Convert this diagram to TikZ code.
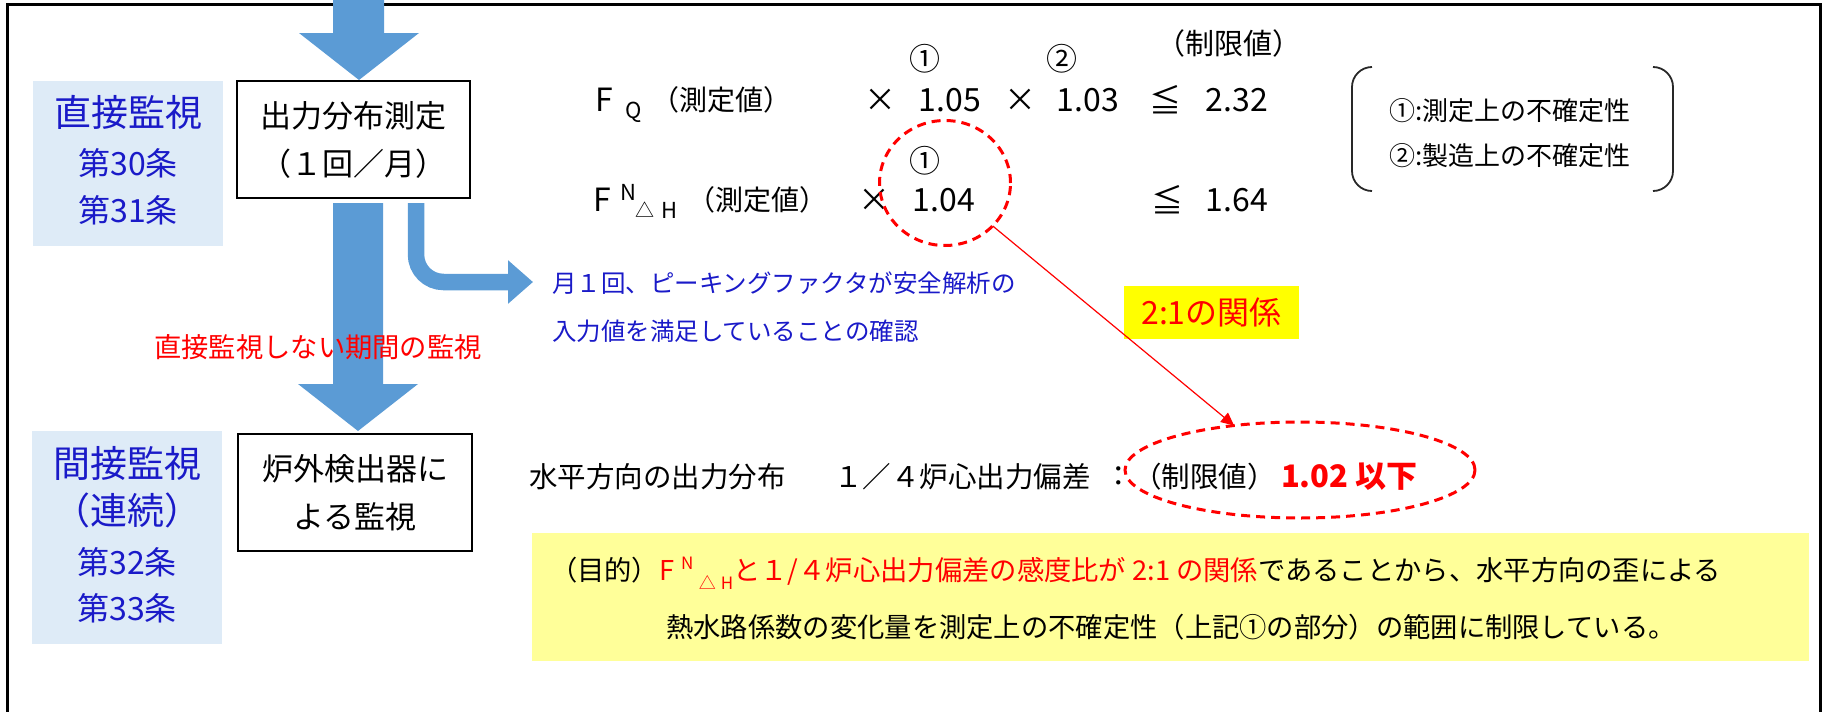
\documentclass[tikz,border=0pt]{standalone}
\usepackage{fontspec}
\setmainfont{Noto Sans CJK JP}
\usetikzlibrary{shapes.geometric,arrows.meta,calc}
\definecolor{arrowblue}{RGB}{91,155,213}
\definecolor{labelbg}{RGB}{222,235,247}
\definecolor{txtblue}{RGB}{26,26,200}
\definecolor{noteyellow}{RGB}{255,255,153}
\definecolor{tagyellow}{RGB}{255,255,0}
\definecolor{bracketgray}{RGB}{40,40,40}
\newcommand{\fsz}[1]{\fontsize{#1}{#1}\selectfont}
\newcommand{\FNdH}{F\hspace{0.25em}\raisebox{0.42em}{\fsz{17}N}\hspace{0.2em}\raisebox{-0.3em}{\fsz{17}△\hspace{0.3em}H}}
\begin{document}
\begin{tikzpicture}[x=1pt,y=-1pt,
  every node/.style={inner sep=0pt,outer sep=0pt},
  flowbox/.style={draw=black,line width=2.2pt,fill=white,align=center,font=\fontsize{31}{48}\selectfont},
  lblbig/.style={text=txtblue,font=\fsz{37}},
  lblsmall/.style={text=txtblue,font=\fsz{32}},
  blockarrow/.style={fill=arrowblue},
  bluenote/.style={anchor=west,text=txtblue,font=\fsz{24.5}},
  formula/.style={font=\fsz{32}},
  formulacjk/.style={font=\fsz{28}},
  circnum/.style={font=\fsz{31}},
  smallidx/.style={font=\fsz{22}},
  rowtxt/.style={font=\fsz{28.5}},
  redellipse/.style={ellipse,draw=red,line width=3pt,dash pattern=on 9pt off 6pt},
  legendtxt/.style={font=\fsz{26}},
  purposetxt/.style={font=\fsz{27.3}}]
\useasboundingbox (0,0) rectangle (1823,712);
% frame
\draw[line width=3pt] (7,712) -- (7,4) -- (1820,4) -- (1820,712);
% left labels
\node[fill=labelbg,minimum width=190pt,minimum height=165pt] (lbl1) at (128,163.5) {};
\node[lblbig] (lbl1a) at (128,112) {直接監視};
\node[lblsmall] (lbl1b) at (128,163) {第30条};
\node[lblsmall] (lbl1c) at (128,210) {第31条};
\node[fill=labelbg,minimum width=190pt,minimum height=213pt] (lbl2) at (127,537.5) {};
\node[lblbig] (lbl2a) at (127,463) {間接監視};
\node[lblbig] (lbl2b) at (127,510) {（連続）};
\node[lblsmall] (lbl2c) at (127,562) {第32条};
\node[lblsmall] (lbl2d) at (127,608) {第33条};
% boxes
\node[flowbox,minimum width=233pt,minimum height=117pt] (box1) at (353.5,139.5) {出力分布測定\\（１回／月）};
\node[flowbox,minimum width=234pt,minimum height=117pt] (box2) at (355,492.5) {炉外検出器に\\よる監視};
% top arrow
\coordinate (a1tip) at ($(box1.north)+(5.5,-1)$);
\fill[blockarrow] (a1tip) -- ++(60,-47) -- ++(-35,0) -- ++(0,-33) -- ++(-51,0) -- ++(0,33) -- ++(-34,0) -- cycle;
% middle arrow
\coordinate (a2tip) at ($(box2.north)+(3,-3)$);
\coordinate (a2top) at ($(box1.south)+(0,5)$);
\fill[blockarrow] (a2tip) -- ++(60,-47) -- ++(-35,0) -- (383,0 |- a2top) -- (333,0 |- a2top) -- ++(0,181) -- ++(-35,0) -- cycle;
\node[text=red,font=\fsz{27.3}] (gaplbl) at (318,347) {直接監視しない期間の監視};
% side notes
\node[bluenote] (note1) at (552,283) {月１回、ピーキングファクタが安全解析の};
\node[bluenote] (note2) at (552,331) {入力値を満足していることの確認};
\coordinate (ctip) at ($(note1.west)+(-19,-1)$);
\draw[arrowblue,line width=16.5pt,rounded corners=27.5pt,-{Triangle[length=25pt,width=42pt]}] ($(box1.south)+(62.5,5)$) |- (ctip);
% formula rows
\node[font=\fsz{29}] (limhdr) at (1229,43) {（制限値）};
\node[formula] (fq) at (604,100) {F};
\node[smallidx] (fqsub) at (634,112) {Q};
\node[formulacjk] (fqm) at (721,100) {（測定値）};
\node[formula] (fqx1) at (880,100) {×};
\node[formula] (fqv1) at (950,100) {1.05};
\node[circnum] (fqc1) at (925,59) {①};
\node[formula] (fqx2) at (1020,100) {×};
\node[formula] (fqv2) at (1088,100) {1.03};
\node[circnum] (fqc2) at (1062,59) {②};
\node[formula] (fqle) at (1165,100) {≦};
\node[formula] (fqlim) at (1237,100) {2.32};
\node[formula] (fn) at (602,200) {F};
\node[smallidx] (fnsup) at (628,192) {N};
\node[font=\fsz{19}] (fnsub1) at (645,210) {△};
\node[smallidx] (fnsub2) at (669,210) {H};
\node[formulacjk] (fnm) at (757,200) {（測定値）};
\node[formula] (fnx) at (874,200) {×};
\node[formula] (fnv) at (944,200) {1.04};
\node[circnum] (fnc) at (925,161) {①};
\node[formula] (fnle) at (1167,200) {≦};
\node[formula] (fnlim) at (1237,200) {1.64};
% legend bracket
\node[minimum width=321pt,minimum height=124pt] (legend) at (1512.5,129) {};
\draw[bracketgray,line width=1.8pt,rounded corners=20pt] ($(legend.north west)+(20,0)$) -- (legend.north west) -- (legend.south west) -- ($(legend.south west)+(20,0)$);
\draw[bracketgray,line width=1.8pt,rounded corners=20pt] ($(legend.north east)+(-20,0)$) -- (legend.north east) -- (legend.south east) -- ($(legend.south east)+(-20,0)$);
\node[legendtxt] (leg1) at (1510,111) {①:測定上の不確定性};
\node[legendtxt] (leg2) at (1510,156) {②:製造上の不確定性};
% horizontal distribution row
\node[rowtxt,anchor=west] (h1) at (529,477) {水平方向の出力分布};
\node[rowtxt] (h2) at (962.5,477) {１／４炉心出力偏差};
\node[rowtxt] (h3) at (1119,477) {：};
\node[rowtxt] (h4) at (1204.5,477) {（制限値）};
\node[font=\fsz{31}\bfseries,text=red,anchor=west] (h5) at (1281,477) {1.02 以下};
% ratio tag
\node[fill=tagyellow,minimum width=175pt,minimum height=53pt,text=red,font=\fsz{32}] (ratio) at (1211.5,312.5) {2:1の関係};
% dashed ellipses and link
\node[redellipse,minimum width=131pt,minimum height=125pt] (e1) at (945,183) {};
\node[redellipse,minimum width=350pt,minimum height=96pt] (e2) at (1300,470) {};
\draw[red,line width=1.2pt,-{Triangle[length=13pt,width=12pt]}] (e1.-42) -- (e2.146);
% purpose box
\node[fill=noteyellow,minimum width=1277pt,minimum height=128pt] (purpose) at (1170.5,597) {};
\node[purposetxt,anchor=west] (p1) at (550,573) {（目的）\textcolor{red}{\FNdH と１/４炉心出力偏差の感度比が 2:1 の関係}であることから、水平方向の歪による};
\node[purposetxt] (p2) at (1171,627) {熱水路係数の変化量を測定上の不確定性（上記①の部分）の範囲に制限している。};
\end{tikzpicture}
\end{document}
